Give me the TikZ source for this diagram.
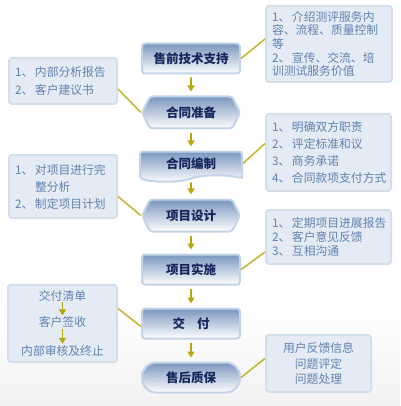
\documentclass[tikz,border=0pt]{standalone}
\usepackage{fontspec}
\setmainfont{Noto Sans CJK SC}
\usepackage{tikz}
\usetikzlibrary{arrows.meta,positioning,shapes.symbols,backgrounds}
\definecolor{cNavy}{RGB}{22,38,92}
\definecolor{cText}{RGB}{98,130,176}
\definecolor{cTop}{RGB}{122,150,190}
\definecolor{cEdge}{RGB}{196,212,232}
\definecolor{cNote}{RGB}{228,235,244}
\definecolor{cNoteEdge}{RGB}{212,223,236}
\definecolor{cOlive}{RGB}{184,168,16}
\definecolor{cLink}{RGB}{196,184,56}
\tikzset{
  stage/.style={draw=cEdge, line width=2pt, top color=cTop, bottom color=white,
                rounded corners=3pt, minimum width=98pt, minimum height=30pt,
                inner sep=0pt, text=cNavy, font=\fontsize{12.5}{14}\selectfont\bfseries},
  hexa/.style={stage, signal, signal to=east and west, signal pointer angle=127,
               minimum height=32pt},
  docu/.style={stage, tape, tape bend top=none, tape bend bottom=in and out,
               tape bend height=6pt, minimum width=102pt},
  pill/.style={stage, rounded corners=14pt},
  note/.style={draw=cNoteEdge, fill=cNote, line width=2pt, rounded corners=3pt,
               anchor=north west, inner xsep=6pt, inner ysep=2pt, align=left,
               text=cText, font=\fontsize{11.8}{17}\selectfont},
  steptext/.style={inner sep=0pt, text=cText, font=\fontsize{11.8}{14}\selectfont},
  link/.style={draw=cLink, line width=1.6pt},
  flow/.style={draw=cOlive, line width=1.8pt, -{Triangle[length=6pt,width=7pt]},
               shorten <=3pt, shorten >=4pt},
}
\newcommand{\idx}[1]{\makebox[20pt][l]{#1、}}

\begin{document}
\begin{tikzpicture}[x=1pt, y=-1pt, node distance=22pt]
  \useasboundingbox (0,0) rectangle (400,406);
  \fill[top color=white, bottom color=black!5] (0,300) rectangle (400,406);

  \node[stage] (presale) at (191,58.5) {售前技术支持};
  \node[hexa, below=21pt of presale] (prep) {合同准备};
  \node[docu, below=21pt of prep] (draft) {合同编制};
  \node[hexa, below=of draft] (design) {项目设计};
  \node[stage, below=21pt of design] (impl) {项目实施};
  \node[stage, below=of impl] (deliver) {交\hspace{12pt}付};
  \node[pill, below=of deliver] (after) {售后质保};

  \node[note, text width=114pt, minimum height=76pt, font=\fontsize{11.8}{13.6}\selectfont] (intro) at (265,5)
    {\idx{1}介绍测评服务内\\容、流程、质量控制\\等\\\idx{2}宣传、交流、培\\训测试服务价值};
  \node[note, text width=96pt, minimum height=46pt, font=\fontsize{11.8}{18}\selectfont] (inner) at (8,57)
    {\idx{1}内部分析报告\\\idx{2}客户建议书};
  \node[note, text width=113pt, minimum height=77pt] (duty) at (265,113)
    {\idx{1}明确双方职责\\\idx{2}评定标准和议\\\idx{3}商务承诺\\\idx{4}合同款项支付方式};
  \node[note, text width=96pt, minimum height=63pt] (plan) at (8,154)
    {\idx{1}对项目进行完\\\hspace*{20pt}整分析\\\idx{2}制定项目计划};
  \node[note, text width=113pt, minimum height=54pt, font=\fontsize{11.8}{14}\selectfont] (report) at (265,209)
    {\idx{1}定期项目进展报告\\\idx{2}客户意见反馈\\\idx{3}互相沟通};
  \node[note, minimum width=109pt, minimum height=77pt] (handover) at (7,284) {};
  \node[note, text width=93pt, minimum height=57pt, align=center, font=\fontsize{11.8}{15.5}\selectfont] (feedback) at (265,334)
    {用户反馈信息\\问题评定\\问题处理};

  \node[steptext, below=6pt of handover.north] (list) {交付清单};
  \node[steptext, below=15pt of list] (sign) {客户签收};
  \node[steptext, below=17pt of sign] (audit) {内部审核及终止};
  \draw[flow, shorten <=1pt, shorten >=1pt] (list) -- (sign);
  \draw[flow, shorten <=1pt, shorten >=1pt] (sign) -- (audit);

  \foreach \a/\b in {presale/prep,prep/draft,draft/design,design/impl,impl/deliver,deliver/after}
    \draw[flow] (\a) -- (\b);

  \draw[link] (presale.east) -- ([yshift=5pt]intro.west);
  \draw[link] ([yshift=-8pt]inner.east) -- (prep.west);
  \draw[link] (draft.east) -- ([yshift=9pt]duty.west);
  \draw[link] ([yshift=-10pt]plan.east) -- (design.west);
  \draw[link] (impl.east) -- ([yshift=-15pt]report.west);
  \draw[link] ([yshift=15pt]handover.east) -- ([yshift=-3pt]deliver.west);
  \draw[link] (after.east) -- ([yshift=5pt]feedback.west);
\end{tikzpicture}
\end{document}
